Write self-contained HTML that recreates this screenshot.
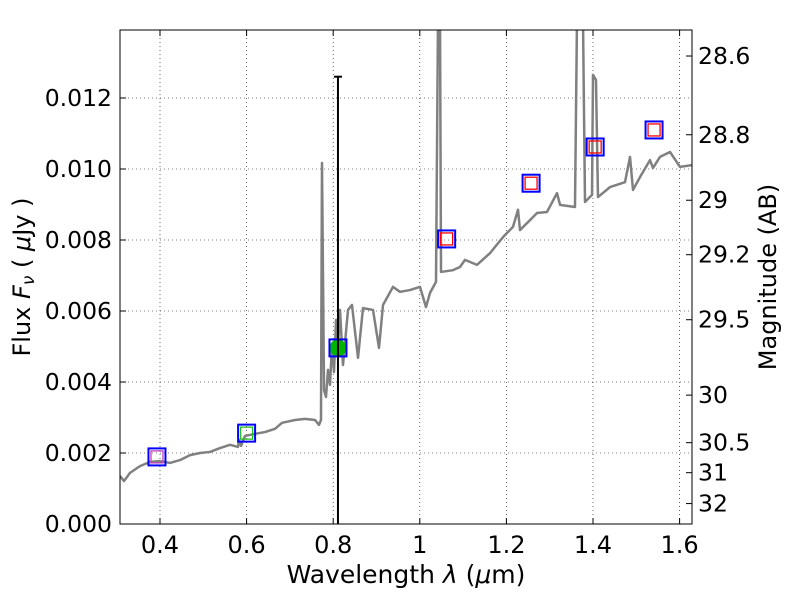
<!DOCTYPE html>
<html><head><meta charset="utf-8"><style>
body{margin:0;background:#fff}
svg text{font-family:"DejaVu Sans","Liberation Sans",sans-serif;fill:#000}
</style></head><body>
<svg id="chart" width="800" height="600" xmlns="http://www.w3.org/2000/svg">
<defs><clipPath id="clip"><rect x="120" y="30" width="572" height="494"/></clipPath></defs>
<rect x="0" y="0" width="800" height="600" fill="#fff"/>
<g id="grid"></g>
<g id="spec" clip-path="url(#clip)"></g>
<g id="marks"></g>
<rect x="120" y="30" width="572" height="494" fill="none" stroke="#000" stroke-width="1"/>
<g id="axes"></g>
<text x="406" y="583" style="font-size:25px" text-anchor="middle">Wavelength  <tspan font-style="italic">λ</tspan> (<tspan font-style="italic">μ</tspan>m)</text>
<text transform="translate(30,277) rotate(-90)" style="font-size:24px" text-anchor="middle">Flux  <tspan font-style="italic">F<tspan style="font-size:17px" dy="4">ν</tspan></tspan><tspan dy="-4">  ( </tspan><tspan font-style="italic">μ</tspan>Jy )</text>
<text transform="translate(776,277) rotate(-90)" style="font-size:24px" text-anchor="middle">Magnitude (AB)</text>
</svg>
<script>
const specLam=[0.3076,0.3169,0.3307,0.3538,0.3769,0.4,0.4231,0.4462,0.4693,0.4924,0.5155,0.5386,0.5617,0.5801,0.5824,0.5871,0.5963,0.6194,0.6425,0.6656,0.6818,0.7118,0.7349,0.758,0.7672,0.7718,0.7741,0.7788,0.7834,0.788,0.7926,0.7972,0.8018,0.8065,0.8111,0.8157,0.8226,0.8342,0.8434,0.8573,0.8688,0.8919,0.9058,0.915,0.9381,0.9543,0.9774,1.0005,1.0143,1.0236,1.0374,1.042,1.0467,1.049,1.0767,1.0928,1.1044,1.1321,1.1621,1.1921,1.2152,1.2268,1.2314,1.2545,1.2707,1.2938,1.3169,1.3238,1.3584,1.363,1.3769,1.3815,1.3977,1.4,1.4069,1.4115,1.4393,1.4739,1.4855,1.4924,1.5085,1.5316,1.5386,1.5547,1.5778,1.6009,1.6286];
const specFlux=[0.00135,0.00121,0.00144,0.00163,0.00175,0.00177,0.00172,0.0018,0.00194,0.002,0.00203,0.00214,0.00223,0.00217,0.00237,0.0022,0.00248,0.00254,0.00259,0.00268,0.00285,0.00293,0.00296,0.00293,0.00279,0.00293,0.01017,0.00377,0.00358,0.00434,0.00392,0.00504,0.00428,0.00575,0.00504,0.00603,0.00448,0.00603,0.00617,0.00468,0.00608,0.00603,0.00496,0.00617,0.00668,0.00654,0.00659,0.00668,0.00611,0.00651,0.00682,0.0142,0.0142,0.0071,0.00715,0.00724,0.00744,0.0073,0.00763,0.00808,0.00837,0.00885,0.00828,0.00856,0.00876,0.00879,0.00932,0.00899,0.00893,0.0142,0.0142,0.00907,0.00927,0.01265,0.01251,0.00921,0.00949,0.00963,0.01034,0.00941,0.00977,0.01025,0.01003,0.01034,0.01048,0.01006,0.01011];
const photLam=[0.393,0.6,0.811,1.062,1.257,1.405,1.541];
const photFlux=[0.00189,0.00256,0.00496,0.00803,0.0096,0.01062,0.0111];
const photInner=['#c040c0','#20c020','dot','red','red','red','red'];
const errLam=0.811, errLow=0.0, errHigh=0.0126;
const xTicks=[0.4,0.6,0.8,1.0,1.2,1.4,1.6];
const xTickLabels=['0.4','0.6','0.8','1','1.2','1.4','1.6'];
const yTicks=[0,0.002,0.004,0.006,0.008,0.01,0.012];
const yTickLabels=['0.000','0.002','0.004','0.006','0.008','0.010','0.012'];
const magTicks=[28.6,28.8,29,29.2,29.5,30,30.5,31,32];
const magLabels=['28.6','28.8','29','29.2','29.5','30','30.5','31','32'];
const NS='http://www.w3.org/2000/svg';
const X=v=>160+(v-0.4)*433;
const Y=v=>524-v*35500;
function mk(tag,attrs,parent){const e=document.createElementNS(NS,tag);for(const k in attrs)e.setAttribute(k,attrs[k]);parent.appendChild(e);return e;}
const grid=document.getElementById('grid'),axes=document.getElementById('axes'),spec=document.getElementById('spec'),marks=document.getElementById('marks');
xTicks.forEach((t,i)=>{const x=X(t);
 const g=mk('line',{x1:x,x2:x,y1:30,y2:524,stroke:'#000','stroke-width':0.6,'stroke-dasharray':'1,3'},grid);
 
 mk('line',{x1:x,x2:x,y1:524,y2:518,stroke:'#000'},axes);mk('line',{x1:x,x2:x,y1:30,y2:36,stroke:'#000'},axes);
 const tx=mk('text',{x:x,y:553,style:'font-size:24px','text-anchor':'middle'},axes);tx.textContent=xTickLabels[i];
 });
yTicks.forEach((t,i)=>{const y=Y(t);
 const g=mk('line',{x1:120,x2:692,y1:y,y2:y,stroke:'#000','stroke-width':0.6,'stroke-dasharray':'1,3'},grid);
 
 mk('line',{x1:120,x2:126,y1:y,y2:y,stroke:'#000'},axes);
 const tx=mk('text',{x:112,y:y+8,style:'font-size:23.5px','text-anchor':'end'},axes);tx.textContent=yTickLabels[i];
 });
magTicks.forEach((m,i)=>{const y=Y(Math.pow(10,(23.9-m)/2.5));
 mk('line',{x1:686,x2:692,y1:y,y2:y,stroke:'#000'},axes);
 const tx=mk('text',{x:698,y:y+8,style:'font-size:23.5px'},axes);tx.textContent=magLabels[i];
 });
const pl=mk('polyline',{points:specLam.map((l,i)=>X(l)+','+Y(specFlux[i])).join(' '),fill:'none',stroke:'#808080','stroke-width':2.5,'stroke-linejoin':'round'},spec);

photLam.forEach((l,i)=>{const x=X(l),y=Y(photFlux[i]);
 const g=mk('g',{},marks);
 
 if(photInner[i]==='dot')mk('circle',{cx:x,cy:y,r:8.5,fill:'#00b400'},g);
 else mk('rect',{x:x-6,y:y-6,width:12,height:12,fill:'none',stroke:photInner[i],'stroke-width':1.3},g);
 mk('rect',{x:x-8.5,y:y-8.5,width:17,height:17,fill:'none',stroke:'#0000ff','stroke-width':2},g);});
const eb=mk('g',{},marks);

mk('line',{x1:X(errLam),x2:X(errLam),y1:Y(errLow),y2:Y(errHigh),stroke:'#000','stroke-width':2},eb);
mk('line',{x1:X(errLam)-4,x2:X(errLam)+4,y1:Y(errHigh),y2:Y(errHigh),stroke:'#000','stroke-width':2},eb);
</script>
</body></html>
